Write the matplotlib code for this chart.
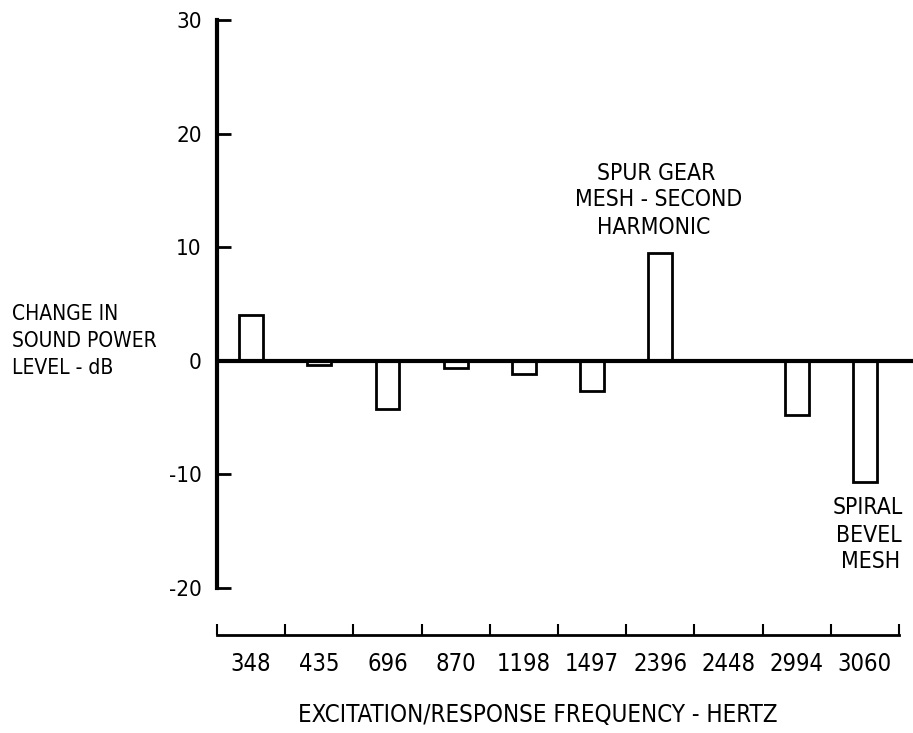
import matplotlib
matplotlib.use("Agg")
import matplotlib.pyplot as plt
import numpy as np

# ── data ──────────────────────────────────────────────────────────────────────
freqs = ["348", "435", "696", "870", "1198", "1497", "2396", "2448", "2994", "3060"]
change_db = [4.0, -0.35, -4.2, -0.6, -1.2, -2.7, 9.5, np.nan, -4.8, -10.7]
y_ticks = [-20, -10, 0, 10, 20, 30]

plt.rcParams["font.family"] = ["DejaVu Sans"]
plt.rcParams["font.stretch"] = "condensed"
plt.rcParams["axes.unicode_minus"] = False

W, H = 913, 733
fig = plt.figure(figsize=(W / 100, H / 100), dpi=100)


def fx(px):
    return px / W


def fy(py):
    return 1 - py / H


# main plot area: spine at x=217, 30 at y=20, -20 at y=588, category width ~68.2 px
cat_w = 68.2
x0 = 217
ax = fig.add_axes([fx(x0), fy(588), (W - x0) / W, 568 / H])
ax.set_xlim(-0.5, -0.5 + (W - x0) / cat_w)
ax.set_ylim(-20, 30)

xs = np.arange(len(freqs))
vals = np.array(change_db)
ok = ~np.isnan(vals)
ax.bar(xs[ok], vals[ok], width=0.35, facecolor="white", edgecolor="black",
       linewidth=2.0, zorder=2)
ax.axhline(0, color="black", linewidth=3.0, zorder=3)

for s in ["top", "right", "bottom"]:
    ax.spines[s].set_visible(False)
ax.spines["left"].set_linewidth(3.0)
ax.set_xticks([])
ax.set_yticks(y_ticks)
ax.tick_params(axis="y", direction="in", length=10, width=2.0, labelsize=16, pad=11)

# annotations
fs_note = 16.5
fig.text(fx(597), fy(173), "SPUR GEAR", ha="left", va="center", fontsize=fs_note)
fig.text(fx(575), fy(200), "MESH - SECOND", ha="left", va="center", fontsize=fs_note)
fig.text(fx(597), fy(227), "HARMONIC", ha="left", va="center", fontsize=fs_note)
fig.text(fx(903), fy(508), "SPIRAL", ha="right", va="center", fontsize=fs_note)
fig.text(fx(902), fy(535), "BEVEL", ha="right", va="center", fontsize=fs_note)
fig.text(fx(900), fy(561), "MESH", ha="right", va="center", fontsize=fs_note)

fig.text(fx(12), fy(314), "CHANGE IN", ha="left", va="center", fontsize=15)
fig.text(fx(12), fy(341), "SOUND POWER", ha="left", va="center", fontsize=15)
fig.text(fx(12), fy(368), "LEVEL - dB", ha="left", va="center", fontsize=15)

# separate category axis at the bottom
ax2 = fig.add_axes([fx(x0), fy(635), len(freqs) * cat_w / W, 0.001])
ax2.set_xlim(0, len(freqs))
for s in ["top", "right", "left"]:
    ax2.spines[s].set_visible(False)
ax2.spines["bottom"].set_linewidth(2.0)
ax2.set_yticks([])
ax2.set_xticks(np.arange(len(freqs) + 1))
ax2.set_xticklabels([])
ax2.tick_params(axis="x", which="major", direction="in", length=8, width=1.5)
ax2.set_xticks(xs + 0.5, minor=True)
ax2.set_xticklabels(freqs, minor=True, fontsize=17)
ax2.tick_params(axis="x", which="minor", length=0, pad=12)

fig.text(fx(538), fy(715), "EXCITATION/RESPONSE FREQUENCY - HERTZ",
         ha="center", va="center", fontsize=17.3)

fig.savefig("out.png", dpi=100, facecolor="white")
